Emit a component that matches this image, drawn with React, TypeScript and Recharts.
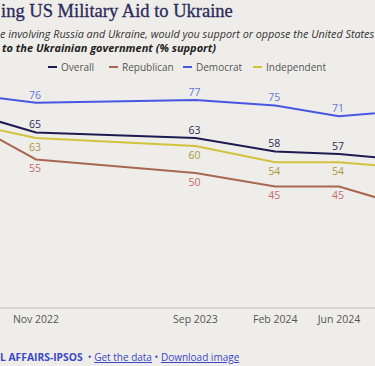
import { LineChart, Line, XAxis, YAxis, LabelList } from 'recharts'

// months counted from Jan 2022
const months = [6, 10, 20, 25, 29, 33]
const monthLabels = ['Jul 2022', 'Nov 2022', 'Sep 2023', 'Feb 2024', 'Jun 2024', 'Oct 2024']
const overall = [72, 65, 63, 58, 57, 55]
const republican = [68, 55, 50, 45, 45, 38]
const democrat = [79, 76, 77, 75, 71, 73]
const independent = [68, 63, 60, 54, 54, 52]

const series = [
  { key: 'overall', name: 'Overall', color: '#1d1c52', label: '#2a2a5c', above: true },
  { key: 'republican', name: 'Republican', color: '#a8674e', label: '#c56a6a', above: false },
  { key: 'democrat', name: 'Democrat', color: '#4757e2', label: '#6676d8', above: true },
  { key: 'independent', name: 'Independent', color: '#d3c23c', label: '#a89a3e', above: false },
]

const data = months.map((m, i) => ({
  m,
  overall: overall[i],
  republican: republican[i],
  democrat: democrat[i],
  independent: independent[i],
}))

const W = 375
const H = 366
const X_DOMAIN: [number, number] = [7.743, 31.257]
const visibleTicks = months.filter((m) => m >= X_DOMAIN[0] && m <= X_DOMAIN[1])
const fmtMonth = (v: number) => monthLabels[months.indexOf(v)] ?? ''

// legend item left edges (layout only)
const legendLeft = [48, 109, 183, 253]

const SANS = '"Open Sans", sans-serif'
const BG = '#efedea'
const LINK = '#3b47c6'

function makeLabel(color: string, above: boolean) {
  return (props: any) => {
    const { x, y, value } = props
    // labels of points outside the cropped view are not drawn
    if (x < 8 || x > W - 8) return null
    return (
      <text
        x={x - 1}
        y={above ? y - 7 : y + 10}
        fill={color}
        fontSize={10.5}
        fontFamily={SANS}
        textAnchor="middle"
        dominantBaseline="middle"
      >
        {value}
      </text>
    )
  }
}

export default function App() {
  return (
    <div
      style={{
        position: 'absolute',
        top: 0,
        left: 0,
        width: W,
        height: H,
        overflow: 'hidden',
        background: BG,
        fontFamily: SANS,
      }}
    >
      <div
        style={{
          position: 'absolute',
          top: 1,
          left: 1,
          whiteSpace: 'nowrap',
          fontFamily: '"Liberation Serif", serif',
          fontSize: 18.5,
          color: '#2b2a5a',
          WebkitTextStroke: '0.3px #2b2a5a',
        }}
      >
        ing US Military Aid to Ukraine
      </div>
      <div
        style={{
          position: 'absolute',
          top: 26,
          left: 0,
          whiteSpace: 'nowrap',
          fontSize: 10.8,
          fontStyle: 'italic',
          color: '#333',
        }}
      >
        e involving Russia and Ukraine, would you support or oppose the United States
      </div>
      <div
        style={{
          position: 'absolute',
          top: 40,
          left: 2,
          whiteSpace: 'nowrap',
          fontSize: 11,
          fontStyle: 'italic',
          fontWeight: 700,
          color: '#222',
        }}
      >
        to the Ukrainian government (% support)
      </div>

      {series.map((s, i) => (
        <div
          key={s.key}
          style={{
            position: 'absolute',
            top: 60,
            left: legendLeft[i],
            display: 'flex',
            alignItems: 'center',
            gap: 4,
            fontSize: 10,
            color: '#555',
            whiteSpace: 'nowrap',
          }}
        >
          <span style={{ width: 9, height: 2, background: s.color, display: 'inline-block' }} />
          <span>{s.name}</span>
        </div>
      ))}

      <div style={{ position: 'absolute', top: 0, left: 0 }}>
        <LineChart width={W} height={H} data={data} margin={{ top: 38, right: 0, bottom: 28, left: 0 }}>
          <XAxis
            dataKey="m"
            type="number"
            domain={X_DOMAIN}
            allowDataOverflow
            ticks={visibleTicks}
            tickFormatter={fmtMonth}
            tickLine={false}
            axisLine={{ stroke: '#cfcdca', strokeWidth: 1.5 }}
            tick={{ fill: '#555', fontSize: 10.5, fontFamily: SANS }}
            height={30}
          />
          <YAxis hide domain={[0, 100]} allowDataOverflow />
          {series.map((s) => (
            <Line
              key={s.key}
              dataKey={s.key}
              stroke={s.color}
              strokeWidth={2}
              dot={false}
              activeDot={false}
              isAnimationActive={false}
              type="linear"
            >
              <LabelList dataKey={s.key} content={makeLabel(s.label, s.above)} />
            </Line>
          ))}
        </LineChart>
      </div>

      <div
        style={{
          position: 'absolute',
          top: 350,
          left: 0,
          whiteSpace: 'nowrap',
          fontSize: 10,
          color: LINK,
        }}
      >
        <span style={{ fontWeight: 700, fontSize: 10.3 }}>L AFFAIRS-IPSOS</span>
        <span> &nbsp;• </span>
        <span style={{ textDecoration: 'underline' }}>Get the data</span>
        <span> • </span>
        <span style={{ textDecoration: 'underline' }}>Download image</span>
      </div>
    </div>
  )
}
